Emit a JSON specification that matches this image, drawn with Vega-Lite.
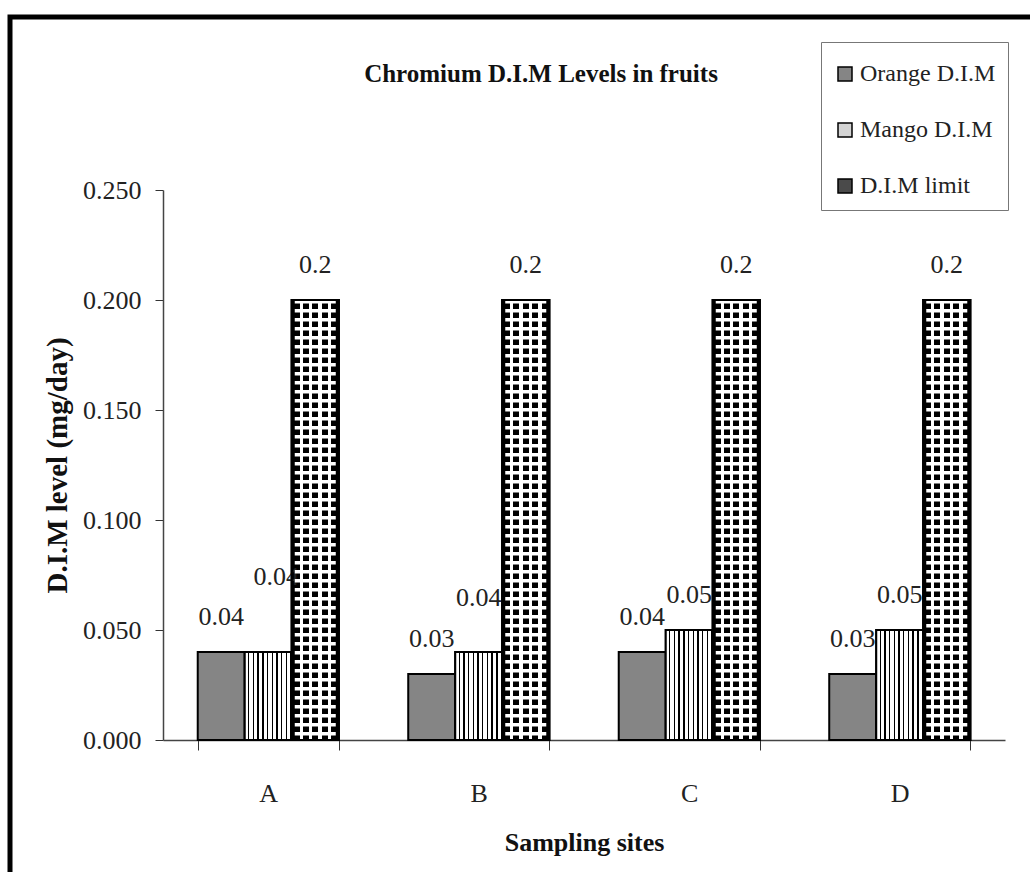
{
  "$schema": "https://vega.github.io/schema/vega-lite/v6.json",
  "autosize": "none",
  "padding": {"left": 10, "top": 17, "right": -80, "bottom": -75},
  "width": 1100,
  "height": 930,
  "background": "white",
  "title": {
    "text": "Chromium  D.I.M Levels in fruits",
    "font": "Liberation Serif",
    "fontSize": 25,
    "fontWeight": "bold",
    "color": "#111",
    "anchor": "middle",
    "offset": -70,
    "dx": -19
  },
  "data": {
    "values": [
      {"site": "A", "series": "Orange D.I.M", "value": 0.04},
      {"site": "A", "series": "Mango D.I.M", "value": 0.04},
      {"site": "A", "series": "D.I.M limit", "value": 0.2},
      {"site": "B", "series": "Orange D.I.M", "value": 0.03},
      {"site": "B", "series": "Mango D.I.M", "value": 0.04},
      {"site": "B", "series": "D.I.M limit", "value": 0.2},
      {"site": "C", "series": "Orange D.I.M", "value": 0.04},
      {"site": "C", "series": "Mango D.I.M", "value": 0.05},
      {"site": "C", "series": "D.I.M limit", "value": 0.2},
      {"site": "D", "series": "Orange D.I.M", "value": 0.03},
      {"site": "D", "series": "Mango D.I.M", "value": 0.05},
      {"site": "D", "series": "D.I.M limit", "value": 0.2}
    ]
  },
  "encoding": {
    "x": {
      "field": "site",
      "type": "nominal",
      "scale": {"range": [153, 995], "paddingInner": 0.33, "paddingOuter": 0.165},
      "axis": {
        "orient": "bottom",
        "offset": -207,
        "title": "Sampling sites",
        "titleFont": "Liberation Serif",
        "titleFontSize": 26,
        "titleFontWeight": "bold",
        "titleColor": "#111",
        "titleY": 102,
        "titleBaseline": "middle",
        "labelAngle": 0,
        "labelFont": "Liberation Serif",
        "labelFontSize": 26,
        "labelColor": "#222",
        "labelPadding": 30,
        "tickBand": "extent",
        "tickSize": 10,
        "tickColor": "#333",
        "domainColor": "#444",
        "domainWidth": 1.5,
        "grid": false
      }
    },
    "xOffset": {
      "field": "series",
      "type": "nominal",
      "sort": ["Orange D.I.M", "Mango D.I.M", "D.I.M limit"],
      "scale": {"paddingInner": 0, "paddingOuter": 0}
    },
    "y": {
      "field": "value",
      "type": "quantitative",
      "scale": {"domain": [0, 0.25], "range": [723, 173], "nice": false},
      "axis": {
        "orient": "left",
        "offset": -153,
        "values": [0, 0.05, 0.1, 0.15, 0.2, 0.25],
        "format": ".3f",
        "title": "D.I.M level (mg/day)",
        "titleFont": "Liberation Serif",
        "titleFontSize": 29,
        "titleFontWeight": "bold",
        "titleColor": "#111",
        "titleX": -106,
        "titleAngle": -90,
        "titleBaseline": "middle",
        "titleAlign": "center",
        "labelFont": "Liberation Serif",
        "labelFontSize": 26,
        "labelColor": "#222",
        "labelPadding": 14,
        "tickSize": 8,
        "tickColor": "#333",
        "domainColor": "#444",
        "domainWidth": 1.5,
        "grid": false
      }
    }
  },
  "layer": [
    {
      "mark": {"type": "bar", "stroke": "black", "strokeWidth": 2},
      "encoding": {
        "color": {
          "field": "series",
          "type": "nominal",
          "scale": {
            "domain": ["Orange D.I.M", "Mango D.I.M", "D.I.M limit"],
            "range": ["#858585", "#d4d4d4", "#4a4a4a"]
          },
          "legend": {
            "title": " ",
            "titleFontSize": 8,
            "titlePadding": 0,
            "orient": "none",
            "legendX": 811,
            "legendY": 25,
            "fillColor": "white",
            "strokeColor": "#777",
            "padding": 12,
            "rowPadding": 32,
            "symbolType": "square",
            "symbolSize": 196,
            "symbolStrokeColor": "black",
            "symbolStrokeWidth": 1.5,
            "labelFont": "Liberation Serif",
            "labelFontSize": 24,
            "labelColor": "#222",
            "labelOffset": 3,
            "labelLimit": 300
          }
        }
      }
    },
    {
      "transform": [{"filter": "datum.series === 'Mango D.I.M'"}],
      "mark": {
        "type": "bar",
        "stroke": "black",
        "strokeWidth": 2,
        "fill": {"gradient": "linear", "x1": 0, "y1": 0, "x2": 1, "y2": 0, "stops": [
          {"offset": 0, "color": "white"}, {"offset": 0.07, "color": "white"}, {"offset": 0.07, "color": "black"}, {"offset": 0.1, "color": "black"},
          {"offset": 0.1, "color": "white"}, {"offset": 0.17, "color": "white"}, {"offset": 0.17, "color": "black"}, {"offset": 0.2, "color": "black"},
          {"offset": 0.2, "color": "white"}, {"offset": 0.27, "color": "white"}, {"offset": 0.27, "color": "black"}, {"offset": 0.3, "color": "black"},
          {"offset": 0.3, "color": "white"}, {"offset": 0.37, "color": "white"}, {"offset": 0.37, "color": "black"}, {"offset": 0.4, "color": "black"},
          {"offset": 0.4, "color": "white"}, {"offset": 0.47, "color": "white"}, {"offset": 0.47, "color": "black"}, {"offset": 0.5, "color": "black"},
          {"offset": 0.5, "color": "white"}, {"offset": 0.57, "color": "white"}, {"offset": 0.57, "color": "black"}, {"offset": 0.6, "color": "black"},
          {"offset": 0.6, "color": "white"}, {"offset": 0.67, "color": "white"}, {"offset": 0.67, "color": "black"}, {"offset": 0.7, "color": "black"},
          {"offset": 0.7, "color": "white"}, {"offset": 0.77, "color": "white"}, {"offset": 0.77, "color": "black"}, {"offset": 0.8, "color": "black"},
          {"offset": 0.8, "color": "white"}, {"offset": 0.87, "color": "white"}, {"offset": 0.87, "color": "black"}, {"offset": 0.9, "color": "black"},
          {"offset": 0.9, "color": "white"}, {"offset": 0.97, "color": "white"}, {"offset": 0.97, "color": "black"}, {"offset": 1, "color": "black"}
        ]}
      },
      "encoding": {}
    },
    {
      "transform": [{"filter": "datum.series === 'D.I.M limit'"}],
      "mark": {
        "type": "bar",
        "stroke": "black",
        "strokeWidth": 2,
        "fill": {"gradient": "linear", "x1": 0, "y1": 0, "x2": 1, "y2": 0, "stops": [
          {"offset": 0, "color": "black"}, {"offset": 0.03, "color": "black"}, {"offset": 0.03, "color": "white"}, {"offset": 0.035, "color": "white"},
          {"offset": 0.035, "color": "black"}, {"offset": 0.165, "color": "black"}, {"offset": 0.165, "color": "white"}, {"offset": 0.235, "color": "white"},
          {"offset": 0.235, "color": "black"}, {"offset": 0.365, "color": "black"}, {"offset": 0.365, "color": "white"}, {"offset": 0.435, "color": "white"},
          {"offset": 0.435, "color": "black"}, {"offset": 0.565, "color": "black"}, {"offset": 0.565, "color": "white"}, {"offset": 0.635, "color": "white"},
          {"offset": 0.635, "color": "black"}, {"offset": 0.765, "color": "black"}, {"offset": 0.765, "color": "white"}, {"offset": 0.835, "color": "white"},
          {"offset": 0.835, "color": "black"}, {"offset": 0.965, "color": "black"}, {"offset": 0.965, "color": "white"}, {"offset": 0.97, "color": "white"},
          {"offset": 0.97, "color": "black"}, {"offset": 1, "color": "black"}
        ]}
      },
      "encoding": {}
    },
    {
      "mark": {
        "type": "text",
        "font": "Liberation Serif",
        "fontSize": 26,
        "color": "#222",
        "baseline": "middle",
        "align": "center",
        "dy": {"expr": "datum.series === 'Mango D.I.M' && datum.site === 'A' ? -75 : (datum.series === 'Mango D.I.M' && datum.site === 'B' ? -54 : -35)"},
        "dx": {"expr": "datum.series === 'Mango D.I.M' && datum.site === 'A' ? 8 : 0"}
      },
      "encoding": {
        "text": {"field": "value", "type": "quantitative", "format": ".2~f"}
      }
    },
    {
      "transform": [{"filter": "datum.series === 'D.I.M limit'"}],
      "mark": {"type": "rule", "color": "white", "strokeWidth": 41, "strokeDash": [3.5, 5.5], "strokeCap": "butt"},
      "encoding": {
        "y2": {"datum": 0}
      }
    },
    {
      "transform": [{"filter": "datum.series === 'D.I.M limit'"}],
      "mark": {"type": "bar", "fill": "transparent", "stroke": "black", "strokeWidth": 2},
      "encoding": {}
    }
  ],
  "config": {
    "view": {"stroke": "black", "strokeWidth": 5}
  }
}
